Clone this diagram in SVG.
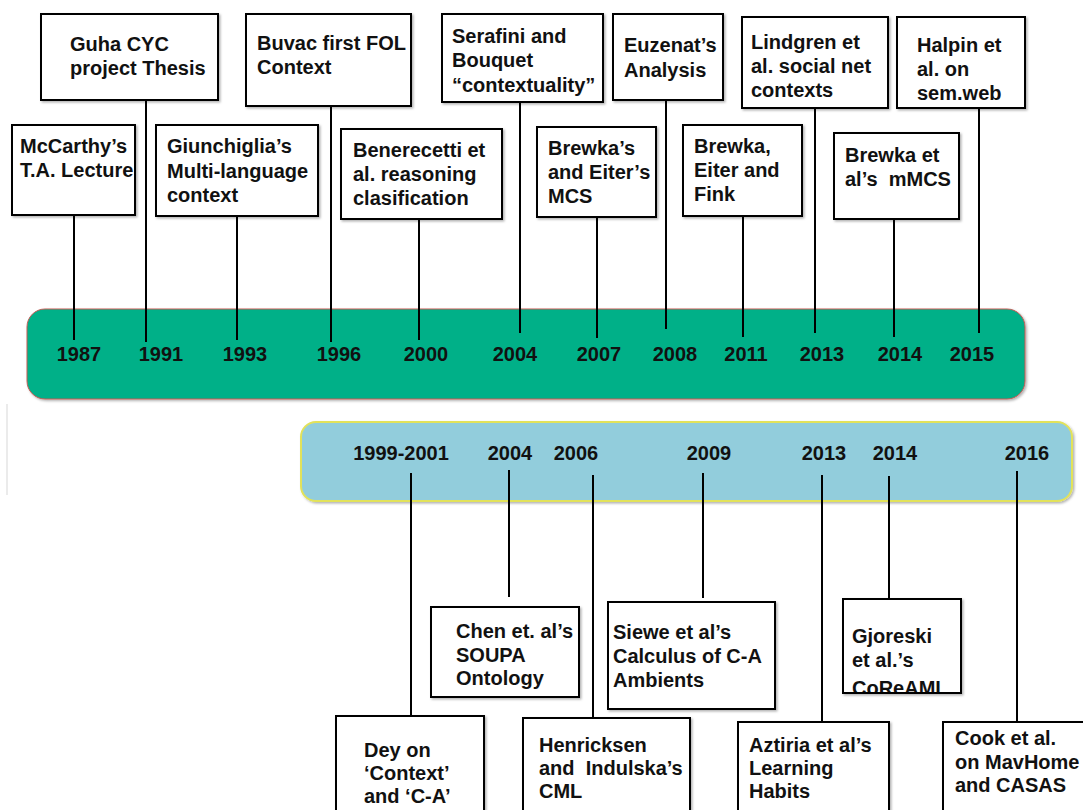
<svg xmlns="http://www.w3.org/2000/svg" width="1083" height="810" viewBox="0 0 1083 810">
<defs>
<filter id="sh" x="-10%" y="-10%" width="130%" height="130%">
<feDropShadow dx="1.5" dy="1.5" stdDeviation="1.2" flood-color="#000" flood-opacity="0.3"/>
</filter>
<clipPath id="gjclip"><rect x="843" y="599" width="118" height="93"/></clipPath>
</defs>
<style>
.box{fill:#fff;stroke:#000;stroke-width:2;filter:url(#sh)}
.t{font-family:"Liberation Sans",Arial,sans-serif;font-weight:bold;font-size:20px;fill:#111}
.y{font-family:"Liberation Sans",Arial,sans-serif;font-weight:bold;font-size:20px;fill:#111;text-anchor:middle}
.ln{stroke:#000;stroke-width:2;fill:none}
</style>
<rect width="1083" height="810" fill="#fff"/>
<line x1="7" y1="404" x2="7" y2="495" stroke="#e4e4e4" stroke-width="1.5"/>

<g id="bar-top">
<rect x="27" y="309" width="998" height="90" rx="18" fill="#00B088" stroke="#c85a55" stroke-width="1" filter="url(#sh)"/>
<text class="y" x="79" y="361">1987</text>
<text class="y" x="161" y="361">1991</text>
<text class="y" x="245" y="361">1993</text>
<text class="y" x="339" y="361">1996</text>
<text class="y" x="426" y="361">2000</text>
<text class="y" x="515" y="361">2004</text>
<text class="y" x="599" y="361">2007</text>
<text class="y" x="675" y="361">2008</text>
<text class="y" x="746" y="361">2011</text>
<text class="y" x="822" y="361">2013</text>
<text class="y" x="900" y="361">2014</text>
<text class="y" x="972" y="361">2015</text>
</g>

<g id="bar-bottom">
<rect x="301" y="422" width="771" height="79" rx="15" fill="#92CDDC" stroke="#e2e25a" stroke-width="2" filter="url(#sh)"/>
<text class="y" x="401" y="460">1999-2001</text>
<text class="y" x="510" y="460">2004</text>
<text class="y" x="576" y="460">2006</text>
<text class="y" x="709" y="460">2009</text>
<text class="y" x="824" y="460">2013</text>
<text class="y" x="895" y="460">2014</text>
<text class="y" x="1027" y="460">2016</text>
</g>

<g id="connectors">
<line class="ln" x1="74" y1="215" x2="74" y2="340"/>
<line class="ln" x1="146" y1="100" x2="146" y2="342"/>
<line class="ln" x1="237" y1="216" x2="237" y2="340"/>
<line class="ln" x1="331" y1="106" x2="331" y2="342"/>
<line class="ln" x1="419" y1="219" x2="419" y2="340"/>
<line class="ln" x1="520" y1="102" x2="520" y2="333"/>
<line class="ln" x1="597" y1="217" x2="597" y2="338"/>
<line class="ln" x1="666" y1="100" x2="666" y2="329"/>
<line class="ln" x1="743" y1="216" x2="743" y2="337"/>
<line class="ln" x1="815" y1="108" x2="815" y2="333"/>
<line class="ln" x1="894" y1="219" x2="894" y2="337"/>
<line class="ln" x1="979" y1="108" x2="979" y2="333"/>
<line class="ln" x1="411" y1="473" x2="411" y2="716"/>
<line class="ln" x1="509" y1="470" x2="509" y2="597"/>
<line class="ln" x1="593" y1="475" x2="593" y2="718"/>
<line class="ln" x1="703" y1="473" x2="703" y2="598"/>
<line class="ln" x1="822" y1="475" x2="822" y2="722"/>
<line class="ln" x1="889" y1="476" x2="889" y2="601"/>
<line class="ln" x1="1017" y1="471" x2="1017" y2="722"/>
</g>

<g id="n-mccarthy">
<rect class="box" x="12" y="125" width="123" height="90"/>
<text class="t" x="20" y="153">McCarthy’s</text>
<text class="t" x="20" y="177">T.A. Lecture</text>
</g>
<g id="n-guha">
<rect class="box" x="41" y="14" width="177" height="86"/>
<text class="t" x="70" y="51">Guha CYC</text>
<text class="t" x="70" y="75">project Thesis</text>
</g>
<g id="n-giunchiglia">
<rect class="box" x="156" y="125" width="162" height="91"/>
<text class="t" x="167" y="153">Giunchiglia’s</text>
<text class="t" x="167" y="178">Multi-language</text>
<text class="t" x="167" y="202">context</text>
</g>
<g id="n-buvac">
<rect class="box" x="246" y="14" width="165" height="92"/>
<text class="t" x="257" y="50">Buvac first FOL</text>
<text class="t" x="257" y="74">Context</text>
</g>
<g id="n-benerecetti">
<rect class="box" x="341" y="129" width="161" height="90"/>
<text class="t" x="353" y="157">Benerecetti et</text>
<text class="t" x="353" y="181">al. reasoning</text>
<text class="t" x="353" y="205">clasification</text>
</g>
<g id="n-serafini">
<rect class="box" x="442" y="14" width="161" height="88"/>
<text class="t" x="452" y="43">Serafini and</text>
<text class="t" x="452" y="67">Bouquet</text>
<text class="t" x="452" y="92">“contextuality”</text>
</g>
<g id="n-brewka-eiter">
<rect class="box" x="537" y="127" width="119" height="90"/>
<text class="t" x="548" y="155">Brewka’s</text>
<text class="t" x="548" y="179">and Eiter’s</text>
<text class="t" x="548" y="203">MCS</text>
</g>
<g id="n-euzenat">
<rect class="box" x="613" y="14" width="110" height="86"/>
<text class="t" x="624" y="52">Euzenat’s</text>
<text class="t" x="624" y="77">Analysis</text>
</g>
<g id="n-brewka-fink">
<rect class="box" x="683" y="125" width="119" height="91"/>
<text class="t" x="694" y="153">Brewka,</text>
<text class="t" x="694" y="177">Eiter and</text>
<text class="t" x="694" y="201">Fink</text>
</g>
<g id="n-lindgren">
<rect class="box" x="742" y="17" width="146" height="91"/>
<text class="t" x="751" y="49">Lindgren et</text>
<text class="t" x="751" y="73">al. social net</text>
<text class="t" x="751" y="97">contexts</text>
</g>
<g id="n-mmcs">
<rect class="box" x="834" y="133" width="125" height="86"/>
<text class="t" x="845" y="162">Brewka et</text>
<text class="t" x="845" y="186" xml:space="preserve">al’s  mMCS</text>
</g>
<g id="n-halpin">
<rect class="box" x="897" y="17" width="128" height="91"/>
<text class="t" x="917" y="52">Halpin et</text>
<text class="t" x="917" y="76">al. on</text>
<text class="t" x="917" y="100">sem.web</text>
</g>

<g id="n-chen">
<rect class="box" x="431" y="607" width="148" height="90"/>
<text class="t" x="456" y="638">Chen et. al’s</text>
<text class="t" x="456" y="662">SOUPA</text>
<text class="t" x="456" y="685">Ontology</text>
</g>
<g id="n-siewe">
<rect class="box" x="608" y="602" width="167" height="107"/>
<text class="t" x="613" y="639">Siewe et al’s</text>
<text class="t" x="613" y="663">Calculus of C-A</text>
<text class="t" x="613" y="687">Ambients</text>
</g>
<g id="n-gjoreski">
<rect class="box" x="843" y="599" width="118" height="94"/>
<g clip-path="url(#gjclip)">
<text class="t" x="852" y="643">Gjoreski</text>
<text class="t" x="852" y="667">et al.’s</text>
<text class="t" x="852" y="695">CoReAMI</text>
</g>
<rect x="843" y="599" width="118" height="94" fill="none" stroke="#000" stroke-width="2"/>
</g>
<g id="n-dey">
<rect class="box" x="336" y="716" width="148" height="110"/>
<text class="t" x="364" y="757">Dey on</text>
<text class="t" x="364" y="780">‘Context’</text>
<text class="t" x="364" y="803">and ‘C-A’</text>
</g>
<g id="n-henricksen">
<rect class="box" x="523" y="718" width="167" height="110"/>
<text class="t" x="539" y="752">Henricksen</text>
<text class="t" x="539" y="775" xml:space="preserve">and  Indulska’s</text>
<text class="t" x="539" y="798">CML</text>
</g>
<g id="n-aztiria">
<rect class="box" x="738" y="722" width="151" height="110"/>
<text class="t" x="749" y="752">Aztiria et al’s</text>
<text class="t" x="749" y="775">Learning</text>
<text class="t" x="749" y="798">Habits</text>
</g>
<g id="n-cook">
<rect class="box" x="943" y="722" width="160" height="110"/>
<text class="t" x="955" y="745">Cook et al.</text>
<text class="t" x="955" y="769">on MavHome</text>
<text class="t" x="955" y="792">and CASAS</text>
</g>
</svg>
